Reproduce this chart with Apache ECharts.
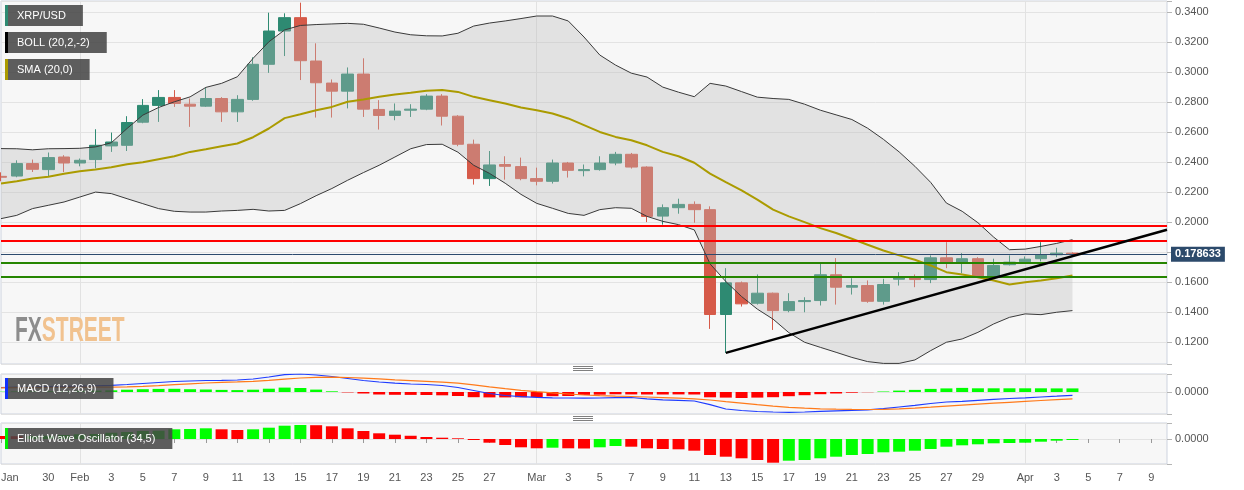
<!DOCTYPE html>
<html><head><meta charset="utf-8">
<script src="https://cdn.jsdelivr.net/npm/echarts@6/dist/echarts.min.js"></script>
<style>html,body{margin:0;padding:0;background:#ffffff}#c{width:1244px;height:490px}</style>
</head><body><div id="c"></div><script>
// ---------- categories (daily, 2020) ----------
const dates = [
'2020-01-27','2020-01-28','2020-01-29','2020-01-30','2020-01-31',
'2020-02-01','2020-02-02','2020-02-03','2020-02-04','2020-02-05','2020-02-06','2020-02-07','2020-02-08','2020-02-09','2020-02-10',
'2020-02-11','2020-02-12','2020-02-13','2020-02-14','2020-02-15','2020-02-16','2020-02-17','2020-02-18','2020-02-19','2020-02-20',
'2020-02-21','2020-02-22','2020-02-23','2020-02-24','2020-02-25','2020-02-26','2020-02-27','2020-02-28','2020-02-29',
'2020-03-01','2020-03-02','2020-03-03','2020-03-04','2020-03-05','2020-03-06','2020-03-07','2020-03-08','2020-03-09','2020-03-10',
'2020-03-11','2020-03-12','2020-03-13','2020-03-14','2020-03-15','2020-03-16','2020-03-17','2020-03-18','2020-03-19','2020-03-20',
'2020-03-21','2020-03-22','2020-03-23','2020-03-24','2020-03-25','2020-03-26','2020-03-27','2020-03-28','2020-03-29','2020-03-30',
'2020-03-31',
'2020-04-01','2020-04-02','2020-04-03','2020-04-04','2020-04-05','2020-04-06','2020-04-07','2020-04-08','2020-04-09','2020-04-10'];

const tickDates = ['2020-01-27','2020-01-30','2020-02-01','2020-02-03','2020-02-05','2020-02-07','2020-02-09','2020-02-11','2020-02-13',
'2020-02-15','2020-02-17','2020-02-19','2020-02-21','2020-02-23','2020-02-25','2020-02-27','2020-03-01','2020-03-03','2020-03-05',
'2020-03-07','2020-03-09','2020-03-11','2020-03-13','2020-03-15','2020-03-17','2020-03-19','2020-03-21','2020-03-23','2020-03-25',
'2020-03-27','2020-03-29','2020-04-01','2020-04-03','2020-04-05','2020-04-07','2020-04-09'];
const tickLabels = ['Jan','30','Feb','3','5','7','9','11','13','15','17','19','21','23','25','27','Mar','3','5',
'7','9','11','13','15','17','19','21','23','25','27','29','Apr','3','5','7','9'];
const monthStarts = ['2020-02-01','2020-03-01','2020-04-01'];

// ---------- XRP/USD daily candles (Jan 27 .. Apr 4) ----------
const open = [
0.2306,0.2308,0.2391,0.2351,0.2435,
0.2395,0.2418,0.2509,0.2513,0.2667,0.2779,0.2832,0.2787,0.2774,0.2825,0.2736,0.2819,0.3053,0.3275,0.3364,0.3075,0.2928,0.2874,0.2988,0.2752,0.2712,0.2747,0.2754,0.2841,0.2707,0.2520,0.2291,0.2385,0.2371,
0.2291,0.2273,0.2395,0.2344,0.2351,0.2395,0.2453,0.2368,0.2041,0.2097,0.2119,0.2084,0.1385,0.1596,0.1460,0.1527,0.1411,0.1471,0.1478,0.1650,0.1567,0.1578,0.1473,0.1620,0.1630,0.1618,0.1763,0.1734,0.1757,0.1634,0.1717,
0.1737,0.1757,0.1783,0.1794];
const close = [
0.2300,0.2391,0.2353,0.2431,0.2395,
0.2413,0.2513,0.2535,0.2665,0.2779,0.2832,0.2792,0.2774,0.2825,0.2736,0.2819,0.3053,0.3275,0.3364,0.3077,0.2930,0.2874,0.2988,0.2754,0.2712,0.2741,0.2754,0.2841,0.2707,0.2520,0.2291,0.2382,0.2373,0.2291,
0.2273,0.2395,0.2346,0.2351,0.2395,0.2453,0.2368,0.2039,0.2097,0.2119,0.2084,0.1385,0.1596,0.1456,0.1527,0.1411,0.1471,0.1478,0.1650,0.1567,0.1578,0.1473,0.1585,0.1634,0.1618,0.1763,0.1734,0.1757,0.1638,0.1712,0.1734,
0.1754,0.1783,0.1794,0.1786];
const low = [
0.2273,0.2300,0.2335,0.2308,0.2335,
0.2373,0.2360,0.2469,0.2475,0.2660,0.2669,0.2769,0.2636,0.2769,0.2669,0.2669,0.2810,0.2996,0.3108,0.2948,0.2698,0.2698,0.2759,0.2702,0.2618,0.2680,0.2702,0.2747,0.2645,0.2507,0.2251,0.2242,0.2284,0.2280,
0.2246,0.2258,0.2298,0.2306,0.2344,0.2380,0.2358,0.2001,0.1984,0.2057,0.1997,0.1289,0.1129,0.1438,0.1451,0.1282,0.1400,0.1400,0.1445,0.1451,0.1518,0.1463,0.1451,0.1578,0.1567,0.1594,0.1694,0.1660,0.1630,0.1623,0.1712,
0.1727,0.1739,0.1767,0.1779];
const high = [
0.2333,0.2413,0.2418,0.2465,0.2447,
0.2425,0.2620,0.2598,0.2707,0.2821,0.2881,0.2881,0.2825,0.2899,0.2834,0.2847,0.3099,0.3397,0.3393,0.3464,0.3193,0.2952,0.3032,0.3093,0.2814,0.2792,0.2787,0.2854,0.2854,0.2714,0.2551,0.2475,0.2440,0.2431,
0.2364,0.2418,0.2402,0.2385,0.2440,0.2469,0.2462,0.2373,0.2119,0.2157,0.2139,0.2106,0.1694,0.1605,0.1652,0.1531,0.1527,0.1500,0.1723,0.1761,0.1627,0.1612,0.1623,0.1667,0.1652,0.1779,0.1867,0.1794,0.1767,0.1757,0.1779,
0.1772,0.1867,0.1830,0.1799];

// ---------- Bollinger (20,2) and SMA(20) ----------
const bollUpper = [
0.2491,0.2490,0.2483,0.2490,0.2491,
0.2493,0.2502,0.2530,0.2625,0.2714,0.2765,0.2803,0.2836,0.2899,0.2926,0.2970,0.3093,0.3203,0.3282,0.3312,0.3318,0.3322,0.3326,0.3320,0.3295,0.3268,0.3250,0.3243,0.3242,0.3260,0.3308,0.3328,0.3342,0.3358,
0.3375,0.3375,0.3342,0.3235,0.3115,0.3048,0.2994,0.2968,0.2901,0.2867,0.2837,0.2926,0.2908,0.2871,0.2834,0.2825,0.2819,0.2787,0.2747,0.2716,0.2685,0.2627,0.2553,0.2469,0.2373,0.2266,0.2128,0.2073,0.1997,0.1901,0.1817,
0.1821,0.1839,0.1859,0.1884];
const bollLower = [
0.2024,0.2046,0.2091,0.2113,0.2135,
0.2168,0.2201,0.2191,0.2157,0.2124,0.2091,0.2073,0.2068,0.2068,0.2075,0.2079,0.2086,0.2075,0.2079,0.2124,0.2177,0.2225,0.2280,0.2331,0.2380,0.2435,0.2490,0.2518,0.2520,0.2467,0.2380,0.2326,0.2260,0.2186,
0.2126,0.2093,0.2059,0.2046,0.2084,0.2097,0.2093,0.2039,0.2006,0.1984,0.1949,0.1723,0.1605,0.1505,0.1421,0.1354,0.1264,0.1200,0.1166,0.1133,0.1099,0.1071,0.1059,0.1059,0.1082,0.1144,0.1200,0.1222,0.1266,0.1322,0.1366,
0.1389,0.1384,0.1400,0.1411];
const sma20 = [
0.2258,0.2273,0.2291,0.2304,0.2324,
0.2340,0.2351,0.2366,0.2387,0.2400,0.2420,0.2440,0.2469,0.2487,0.2507,0.2525,0.2567,0.2625,0.2694,0.2720,0.2747,0.2769,0.2803,0.2819,0.2836,0.2852,0.2863,0.2876,0.2881,0.2869,0.2836,0.2814,0.2792,0.2765,
0.2747,0.2725,0.2692,0.2647,0.2602,0.2569,0.2547,0.2513,0.2469,0.2440,0.2397,0.2324,0.2268,0.2213,0.2151,0.2084,0.2039,0.2001,0.1961,0.1928,0.1890,0.1850,0.1812,0.1779,0.1750,0.1712,0.1667,0.1652,0.1634,0.1612,0.1585,
0.1600,0.1612,0.1627,0.1645];

// ---------- drawn levels ----------
const resistanceLevels = [0.1976, 0.1876];
const supportLevels = [0.1730, 0.1636];
const lastPrice = 0.178633;
const trendFrom = ['2020-03-13', 0.1129];
const trendTo = ['2020-04-10', 0.1950];

// ---------- MACD (12,26,9) ----------
const macdLine = [
0.0045,0.0048,0.0050,0.0053,0.0056,
0.0059,0.0062,0.0066,0.0075,0.0085,0.0095,0.0105,0.0110,0.0115,0.0117,0.0120,0.0130,0.0150,0.0173,0.0180,0.0170,0.0155,0.0135,0.0115,0.0100,0.0088,0.0080,0.0075,0.0065,0.0045,0.0015,-0.0015,-0.0035,-0.0047,
-0.0053,-0.0058,-0.0060,-0.0062,-0.0060,-0.0057,-0.0055,-0.0068,-0.0078,-0.0083,-0.0090,-0.0127,-0.0170,-0.0185,-0.0195,-0.0200,-0.0203,-0.0200,-0.0193,-0.0188,-0.0183,-0.0178,-0.0167,-0.0150,-0.0133,-0.0115,-0.0100,-0.0093,-0.0083,-0.0073,-0.0065,
-0.0058,-0.0050,-0.0042,-0.0033];
const signalLine = [
0.0042,0.0043,0.0044,0.0045,0.0046,
0.0047,0.0048,0.0049,0.0052,0.0057,0.0064,0.0073,0.0082,0.0090,0.0096,0.0101,0.0107,0.0117,0.0129,0.0140,0.0146,0.0148,0.0145,0.0139,0.0131,0.0122,0.0114,0.0106,0.0098,0.0088,0.0072,0.0052,0.0034,0.0017,
0.0003,-0.0009,-0.0020,-0.0030,-0.0037,-0.0042,-0.0045,-0.0050,-0.0056,-0.0062,-0.0068,-0.0080,-0.0096,-0.0111,-0.0127,-0.0141,-0.0153,-0.0162,-0.0168,-0.0172,-0.0174,-0.0175,-0.0173,-0.0168,-0.0161,-0.0152,-0.0142,-0.0132,-0.0122,-0.0112,-0.0103,
-0.0094,-0.0085,-0.0077,-0.0069];
const macdHist = [
0.0003,0.0005,0.0006,0.0008,0.0010,
0.0012,0.0014,0.0017,0.0023,0.0028,0.0031,0.0032,0.0028,0.0025,0.0021,0.0019,0.0023,0.0033,0.0044,0.0040,0.0024,0.0007,-0.0004,-0.0015,-0.0025,-0.0028,-0.0029,-0.0030,-0.0033,-0.0040,-0.0052,-0.0054,-0.0054,-0.0053,
-0.0050,-0.0042,-0.0040,-0.0029,-0.0027,-0.0023,-0.0024,-0.0025,-0.0025,-0.0024,-0.0025,-0.0053,-0.0056,-0.0060,-0.0056,-0.0052,-0.0042,-0.0032,-0.0022,-0.0015,-0.0007,-0.0002,0.0005,0.0014,0.0021,0.0031,0.0036,0.0041,0.0037,0.0037,0.0037,
0.0037,0.0037,0.0036,0.0036];

// ---------- Elliott Wave Oscillator (34,5) ----------
const ewo = [
0.0120,0.0112,0.0120,0.0132,0.0160,
0.0188,0.0200,0.0252,0.0280,0.0320,0.0332,0.0388,0.0400,0.0428,0.0388,0.0360,0.0388,0.0452,0.0532,0.0560,0.0552,0.0508,0.0428,0.0320,0.0228,0.0172,0.0130,0.0080,0.0052,0.0028,-0.0040,-0.0148,-0.0240,-0.0332,
-0.0372,-0.0348,-0.0372,-0.0380,-0.0332,-0.0280,-0.0308,-0.0372,-0.0400,-0.0412,-0.0468,-0.0640,-0.0708,-0.0772,-0.0840,-0.0948,-0.0868,-0.0840,-0.0772,-0.0708,-0.0640,-0.0600,-0.0532,-0.0508,-0.0468,-0.0400,-0.0308,-0.0252,-0.0212,-0.0172,-0.0160,
-0.0148,-0.0108,-0.0068,-0.0040];

// ---------- build ----------
const FONT = '"Liberation Sans", Arial, Helvetica, sans-serif';
const tickMap = {};
tickDates.forEach((d, i) => { tickMap[d] = tickLabels[i]; });
const candleData = open.map((o, i) => [o, close[i], low[i], high[i]]);
const bandWidth = bollUpper.map((u, i) => +(u - bollLower[i]).toFixed(4));

const GREEN = '#2e8a72', RED = '#d65a49';
const isMult = (v, step) => Math.abs(v / step - Math.round(v / step)) < 1e-6;

function xAxisFor(gi, showLabels) {
  return {
    type: 'category', gridIndex: gi, data: dates, boundaryGap: false,
    axisLine: { show: false },
    axisTick: { show: showLabels, length: 4, interval: (i, v) => tickMap[v] !== undefined, lineStyle: { color: '#999' } },
    axisLabel: {
      show: showLabels, interval: (i, v) => tickMap[v] !== undefined,
      formatter: v => tickMap[v] || '', color: '#555', fontSize: 11, fontFamily: FONT, margin: 8,
      alignMinLabel: 'left'
    },
    splitLine: { show: true, interval: (i, v) => monthStarts.indexOf(v) >= 0, lineStyle: { color: '#e2e2e2', width: 1 } }
  };
}
function yAxisFor(gi, min, max, step, labelFn) {
  return {
    type: 'value', gridIndex: gi, position: 'right', min: min, max: max, scale: true,
    minInterval: step, maxInterval: step, splitNumber: Math.round((max - min) / step),
    axisLine: { show: false },
    axisTick: { show: true, length: 5, lineStyle: { color: '#b5b5b5' } },
    axisLabel: { formatter: labelFn, color: '#555', fontSize: 11, fontFamily: FONT, margin: 8, showMinLabel: true, showMaxLabel: true },
    splitLine: { show: true, lineStyle: { color: '#e3e3e3', width: 1 } }
  };
}
const gridBase = { show: true, left: 1, width: 1166, backgroundColor: '#f7f7f7', borderColor: '#cdd3df', borderWidth: 1, containLabel: false, outerBoundsMode: 'none' };

function tag(x, y, text, barColor) {
  return {
    type: 'group', x: x, y: y, z: 100,
    children: [
      { type: 'text', z: 100, style: { text: text, x: 0, y: 0, fill: '#ffffff', font: '11px ' + FONT, lineHeight: 11,
        backgroundColor: 'rgba(68,68,68,0.86)', padding: [5, 17, 5, 12], align: 'left', verticalAlign: 'top' } },
      { type: 'rect', z: 101, shape: { x: 0, y: 0, width: 3, height: 21 }, style: { fill: barColor } }
    ]
  };
}
function handle(cx, cy) {
  return [-2, 0, 2].map(d => ({ type: 'line', z: 100, shape: { x1: cx - 10, y1: cy + d + 0.5, x2: cx + 10, y2: cy + d + 0.5 }, style: { stroke: '#808080', lineWidth: 1 } }));
}

const chart = echarts.init(document.getElementById('c'), null, { renderer: 'canvas' });
chart.setOption({
  animation: false,
  backgroundColor: '#ffffff',
  textStyle: { fontFamily: FONT },
  grid: [
    Object.assign({ top: 1, height: 363 }, gridBase),
    Object.assign({ top: 374, height: 40 }, gridBase),
    Object.assign({ top: 423, height: 41 }, gridBase)
  ],
  xAxis: [xAxisFor(0, false), xAxisFor(1, false), xAxisFor(2, true)],
  yAxis: [
    yAxisFor(0, 0.1055, 0.3475, 0.02, v => isMult(v, 0.02) ? v.toFixed(4) : ''),
    yAxisFor(1, -0.022, 0.018, 0.05, v => Math.abs(v) < 1e-9 ? '0.0000' : ''),
    yAxisFor(2, -0.1, 0.064, 0.2, v => Math.abs(v) < 1e-9 ? '0.0000' : '')
  ],
  series: [
    { name: 'XRP/USD', type: 'candlestick', xAxisIndex: 0, yAxisIndex: 0, data: candleData, barWidth: 12, z: 2,
      itemStyle: { color: GREEN, color0: RED, borderColor: GREEN, borderColor0: RED, borderWidth: 1 } },
    { name: 'bollBase', type: 'line', xAxisIndex: 0, yAxisIndex: 0, data: bollLower, stack: 'boll', symbol: 'none', silent: true, z: 3,
      lineStyle: { opacity: 0 } },
    { name: 'bollBand', type: 'line', xAxisIndex: 0, yAxisIndex: 0, data: bandWidth, stack: 'boll', symbol: 'none', silent: true, z: 3,
      lineStyle: { opacity: 0 }, areaStyle: { color: 'rgba(188,188,188,0.5)' } },
    { name: 'upper', type: 'line', xAxisIndex: 0, yAxisIndex: 0, data: bollUpper, symbol: 'none', silent: true, z: 4,
      lineStyle: { color: '#3a3a3a', width: 1 } },
    { name: 'lower', type: 'line', xAxisIndex: 0, yAxisIndex: 0, data: bollLower, symbol: 'none', silent: true, z: 4,
      lineStyle: { color: '#3a3a3a', width: 1 } },
    { name: 'SMA', type: 'line', xAxisIndex: 0, yAxisIndex: 0, data: sma20, symbol: 'none', silent: true, z: 4, clip: false,
      lineStyle: { color: '#ab9b00', width: 2 },
      markLine: {
        silent: true, symbol: ['none', 'none'], animation: false, z: 5, precision: 6,
        label: { show: false },
        data: [].concat(
          resistanceLevels.map(v => ({ yAxis: v, lineStyle: { color: '#ff0000', width: 2, type: 'solid' } })),
          supportLevels.map(v => ({ yAxis: v, lineStyle: { color: '#258500', width: 2, type: 'solid' } })),
          [{ yAxis: lastPrice, lineStyle: { color: '#2c4a6e', width: 1, type: 'solid' },
             label: { show: true, position: 'end', distance: 4, formatter: lastPrice.toFixed(6), color: '#ffffff', fontWeight: 'bold',
                      fontSize: 11, fontFamily: FONT, backgroundColor: '#2c4a6b', padding: [2, 4, 2, 4] } }],
          [[{ coord: trendFrom, lineStyle: { color: '#000000', width: 2.5, type: 'solid' } },
            { coord: trendTo, lineStyle: { color: '#000000', width: 2.5, type: 'solid' } }]]
        )
      } },
    { name: 'MACD hist', type: 'bar', xAxisIndex: 1, yAxisIndex: 1, data: macdHist, barWidth: 12, z: 2,
      itemStyle: { color: p => p.value >= 0 ? '#00ff00' : '#ff0000' } },
    { name: 'MACD', type: 'line', xAxisIndex: 1, yAxisIndex: 1, data: macdLine, symbol: 'none', z: 3,
      lineStyle: { color: '#1f3cff', width: 1.2 } },
    { name: 'Signal', type: 'line', xAxisIndex: 1, yAxisIndex: 1, data: signalLine, symbol: 'none', z: 3,
      lineStyle: { color: '#ff7a1a', width: 1.2 } },
    { name: 'EWO', type: 'bar', xAxisIndex: 2, yAxisIndex: 2, data: ewo, barWidth: 12, z: 2,
      itemStyle: { color: p => (p.dataIndex > 0 && ewo[p.dataIndex] >= ewo[p.dataIndex - 1]) ? '#00ff00' : '#ff0000' } }
  ],
  graphic: [
    tag(5, 5, 'XRP/USD', GREEN),
    tag(5, 32, 'BOLL (20,2,-2)', '#000000'),
    tag(5, 59, 'SMA (20,0)', '#ab9b00'),
    tag(5, 378, 'MACD (12,26,9)', '#1030ff'),
    tag(5, 428, 'Elliott Wave Oscillator (34,5)', '#00ee00'),
    { type: 'text', x: 15, y: 331, scaleX: 0.6, z: 1,
      style: { text: '{a|FX}{b|STREET}', verticalAlign: 'middle', align: 'left',
        rich: { a: { fill: '#8d8d8d', fontSize: 35, fontWeight: 'bold', fontFamily: FONT },
                b: { fill: '#f1c28f', fontSize: 35, fontWeight: 'bold', fontFamily: FONT } } } }
  ].concat(handle(583, 368), handle(583, 418))
});
</script></body></html>
